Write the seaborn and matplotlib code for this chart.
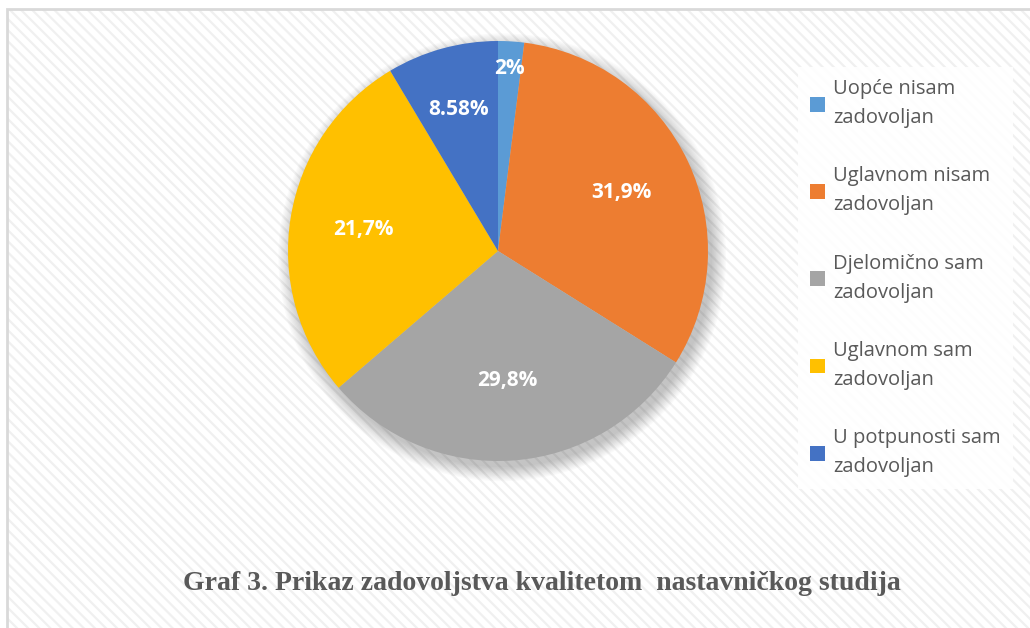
import matplotlib
matplotlib.use("Agg")
import matplotlib.pyplot as plt
import matplotlib.patches as mpatches
import numpy as np
import seaborn as sns

# data
categories = [
    "Uopće nisam\nzadovoljan",
    "Uglavnom nisam\nzadovoljan",
    "Djelomično sam\nzadovoljan",
    "Uglavnom sam\nzadovoljan",
    "U potpunosti sam\nzadovoljan",
]
shares = [2.0, 31.9, 29.8, 27.7, 8.58]
value_labels = ["2%", "31,9%", "29,8%", "21,7%", "8.58%"]
colors = ["#5B9BD5", "#ED7D31", "#A5A5A5", "#FFC000", "#4472C4"]
label_dist = [0.87, 0.65, 0.62, 0.65, 0.70]

sns.set_theme(style="white")
plt.rcParams["font.family"] = ["Open Sans", "DejaVu Sans"]
plt.rcParams["hatch.linewidth"] = 1.6

W, H = 1030, 628
fig = plt.figure(figsize=(W / 100, H / 100), dpi=100)
fig.patch.set_facecolor("white")

# chart area with diagonal stripe texture and a light border
stripes = mpatches.Rectangle((7 / W, -0.05), 1.2, 1 - 9 / H + 0.05, transform=fig.transFigure,
                             facecolor="white", edgecolor="#F0F0F0", linewidth=0,
                             hatch="\\\\\\", zorder=-2)
border = mpatches.Rectangle((7 / W, -0.05), 1.2, 1 - 9 / H + 0.05, transform=fig.transFigure,
                            facecolor="none", edgecolor="#D9D9D9", linewidth=2, zorder=-1)
fig.patches.extend([stripes, border])

# pie axes: centre (498, 251), radius 210 px
cx, cy, r = 498, 251, 210
ax = fig.add_axes([(cx - r) / W, 1 - (cy + r) / H, 2 * r / W, 2 * r / H])
ax.set_facecolor("none")
ax.set_zorder(1)

# soft shadow behind the pie
for i in range(12):
    ax.add_patch(mpatches.Circle((0.02, -0.03), 1.0 + 0.006 * i, color="black",
                                 alpha=0.018, lw=0, zorder=0, clip_on=False))

wedges, _ = ax.pie(shares, colors=colors, startangle=90, counterclock=False,
                   radius=1.0, wedgeprops=dict(linewidth=0))
for w in wedges:
    w.set_zorder(2)

for w, txt, d in zip(wedges, value_labels, label_dist):
    ang = np.deg2rad((w.theta1 + w.theta2) / 2)
    ax.text(d * np.cos(ang), d * np.sin(ang), txt, ha="center", va="center",
            color="white", fontsize=15, fontweight="bold", zorder=3)

ax.set_xlim(-1, 1)
ax.set_ylim(-1, 1)
ax.set_aspect("equal")
ax.axis("off")

# legend
handles = [mpatches.Patch(facecolor=c, edgecolor="none") for c in colors]
leg = fig.legend(handles, categories, loc="upper left",
                 bbox_to_anchor=(788 / W, 1 - 57 / H),
                 frameon=True, fontsize=14.5, handlelength=0.75, handleheight=0.75,
                 handletextpad=0.4, labelspacing=1.9, borderpad=0.6,
                 fancybox=False)
leg.get_frame().set_facecolor("white")
leg.get_frame().set_edgecolor("none")
leg.get_frame().set_alpha(0.9)
leg.set_zorder(2)
for t in leg.get_texts():
    t.set_color("#595959")
    t.set_linespacing(1.6)

# caption
fig.text(542 / W, 1 - 583 / H,
         "Graf 3. Prikaz zadovoljstva kvalitetom  nastavničkog studija",
         ha="center", va="center", fontsize=20, fontweight="bold",
         color="#595959", family=["Liberation Serif", "DejaVu Serif"])

fig.savefig("out.png", dpi=100)
